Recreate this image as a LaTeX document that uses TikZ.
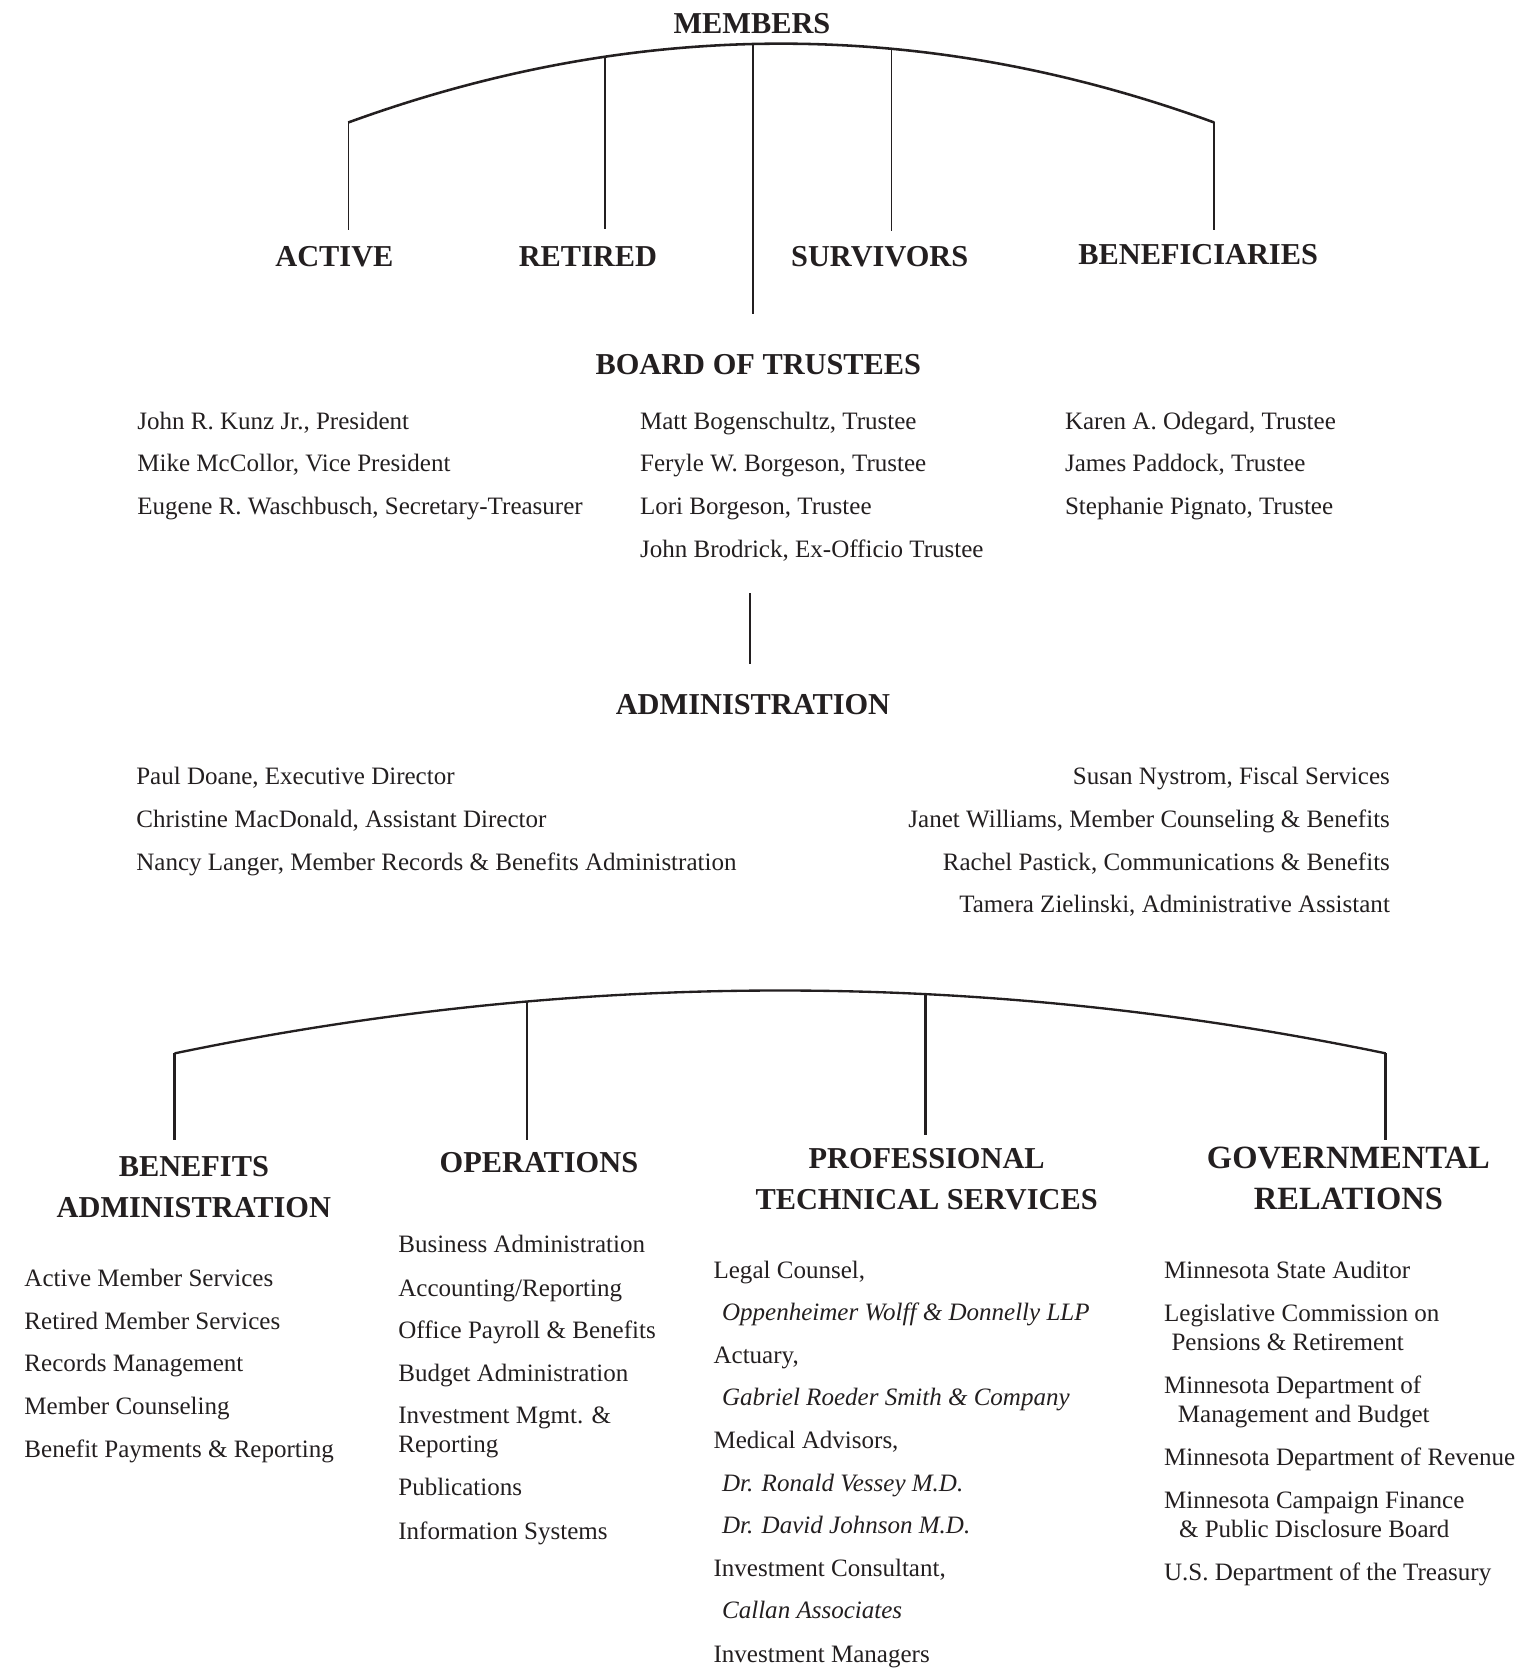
\documentclass[tikz,border=0pt]{standalone}
\usepackage{fontspec}
\setmainfont{Liberation Serif}
\definecolor{ink}{RGB}{35,31,32}
\begin{document}
\begin{tikzpicture}[x=1pt,y=-1pt,
  every node/.style={inner sep=0pt,outer sep=0pt,text=ink},
  head/.style={font=\fontsize{28.5}{34}\selectfont\bfseries,anchor=base},
  bighead/.style={font=\fontsize{30.5}{36}\selectfont\bfseries,anchor=base},
  item/.style={font=\fontsize{23.5}{28}\selectfont,anchor=base west},
  itemr/.style={font=\fontsize{23.5}{28}\selectfont,anchor=base east},
  itit/.style={font=\fontsize{23.5}{28}\selectfont\itshape,anchor=base west},
  arcline/.style={draw=ink,line width=2.4pt},
  thinline/.style={draw=ink,line width=1.4pt},
  lowline/.style={draw=ink,line width=2.2pt}]
\useasboundingbox (0,0) rectangle (1445,1568);

% ---------- top: members ----------
\node[head] (members) at (706,31.5) {MEMBERS};
\node[head] (active) at (314,250.5) {ACTIVE};
\node[head] (retired) at (552,250.5) {RETIRED};
\node[head] (survivors) at (826,250.5) {SURVIVORS};
\node[head] (benef) at (1125,248.5) {BENEFICIARIES};
\node[head] (board) at (712,351.5) {BOARD OF TRUSTEES};

\coordinate (tL) at (327,115);
\coordinate (tR) at (1140,115);
\draw[arcline] (tL) .. controls (598,16.33) and (869,16.33) .. (tR);
\coordinate (tRet) at (568,52.5);
\coordinate (tMem) at (707,40.5);
\coordinate (tSur) at (837,45);
\coordinate (eAct) at (327,216);
\coordinate (eRet) at (568,215);
\coordinate (eMem) at (707,295);
\coordinate (eSur) at (837,217);
\coordinate (eBen) at (1140,216);
\draw[thinline] (tL) -- (eAct);
\draw[thinline] (tRet) -- (eRet);
\draw[thinline] (tMem) -- (eMem);
\draw[thinline] (tSur) -- (eSur);
\draw[thinline] (tR) -- (eBen);

% ---------- board of trustees ----------
\node[item] (b1) at (129,403) {John R. Kunz Jr., President};
\node[item] (b2) at (129,443) {Mike McCollor, Vice President};
\node[item] (b3) at (129,483) {Eugene R. Waschbusch, Secretary-Treasurer};
\node[item] (b4) at (601,403) {Matt Bogenschultz, Trustee};
\node[item] (b5) at (601,443) {Feryle W. Borgeson, Trustee};
\node[item] (b6) at (601,483) {Lori Borgeson, Trustee};
\node[item] (b7) at (601,523) {John Brodrick, Ex-Officio Trustee};
\node[item] (b8) at (1000,403) {Karen A. Odegard, Trustee};
\node[item] (b9) at (1000,443) {James Paddock, Trustee};
\node[item] (b10) at (1000,483) {Stephanie Pignato, Trustee};

\coordinate (bdTop) at (704,557);
\coordinate (bdBot) at (704,623);
\draw[thinline] (bdTop) -- (bdBot);

% ---------- administration ----------
\node[head] (admin) at (707,670.5) {ADMINISTRATION};
\node[item] (a1) at (128,737) {Paul Doane, Executive Director};
\node[item] (a2) at (128,777) {Christine MacDonald, Assistant Director};
\node[item] (a3) at (128,817) {Nancy Langer, Member Records \& Benefits Administration};
\node[itemr] (a4) at (1305,737) {Susan Nystrom, Fiscal Services};
\node[itemr] (a5) at (1305,777) {Janet Williams, Member Counseling \& Benefits};
\node[itemr] (a6) at (1305,817) {Rachel Pastick, Communications \& Benefits};
\node[itemr] (a7) at (1305,857) {Tamera Zielinski, Administrative Assistant};

% ---------- lower arc ----------
\coordinate (lL) at (164,989);
\coordinate (lR) at (1301,989);
\draw[lowline] (lL) .. controls (543,910.33) and (922,910.33) .. (lR);
\coordinate (lOp) at (495,939.5);
\coordinate (lPr) at (869,932.5);
\coordinate (eBa) at (164,1070);
\coordinate (eOp) at (495,1070);
\coordinate (ePr) at (869,1066);
\coordinate (eGo) at (1301,1070);
\draw[lowline] (lL) -- (eBa);
\draw[lowline] (lOp) -- (eOp);
\draw[lowline] (lPr) -- (ePr);
\draw[lowline] (lR) -- (eGo);

\node[head] (ba1) at (182,1104.5) {BENEFITS};
\node[head] (ba2) at (182,1143.5) {ADMINISTRATION};
\node[head] (op) at (506,1100.5) {OPERATIONS};
\node[head] (pt1) at (870,1097.5) {PROFESSIONAL};
\node[head] (pt2) at (870,1135.5) {TECHNICAL SERVICES};
\node[bighead] (gr1) at (1266,1097) {GOVERNMENTAL};
\node[bighead] (gr2) at (1266,1136) {RELATIONS};

% benefits administration
\node[item] (ba3) at (23,1208) {Active Member Services};
\node[item] (ba4) at (23,1248) {Retired Member Services};
\node[item] (ba5) at (23,1288) {Records Management};
\node[item] (ba6) at (23,1328) {Member Counseling};
\node[item] (ba7) at (23,1368) {Benefit Payments \& Reporting};

% operations
\node[item] (op1) at (374,1176) {Business Administration};
\node[item] (op2) at (374,1217) {Accounting/Reporting};
\node[item] (op3) at (374,1257) {Office Payroll \& Benefits};
\node[item] (op4) at (374,1297) {Budget Administration};
\node[item] (op5) at (374,1337) {Investment Mgmt. \&};
\node[item] (op6) at (374,1364) {Reporting};
\node[item] (op7) at (374,1404) {Publications};
\node[item] (op8) at (374,1445) {Information Systems};

% professional technical services
\node[item] (pt3) at (670,1200) {Legal Counsel,};
\node[itit] (pt4) at (678,1240) {Oppenheimer Wolff \& Donnelly LLP};
\node[item] (pt5) at (670,1280) {Actuary,};
\node[itit] (pt6) at (678,1320) {Gabriel Roeder Smith \& Company};
\node[item] (pt7) at (670,1360) {Medical Advisors,};
\node[itit] (pt8) at (678,1400) {Dr. Ronald Vessey M.D.};
\node[itit] (pt9) at (678,1440) {Dr. David Johnson M.D.};
\node[item] (pt10) at (670,1480) {Investment Consultant,};
\node[itit] (pt11) at (678,1520) {Callan Associates};
\node[item] (pt12) at (670,1561) {Investment Managers};

% governmental relations
\node[item] (gr3) at (1093,1200) {Minnesota State Auditor};
\node[item] (gr4) at (1093,1241) {Legislative Commission on};
\node[item] (gr5) at (1100,1268) {Pensions \& Retirement};
\node[item] (gr6) at (1093,1308) {Minnesota Department of};
\node[item] (gr7) at (1106,1336) {Management and Budget};
\node[item] (gr8) at (1093,1376) {Minnesota Department of Revenue};
\node[item] (gr9) at (1093,1416) {Minnesota Campaign Finance};
\node[item] (gr10) at (1107,1444) {\& Public Disclosure Board};
\node[item] (gr11) at (1093,1484) {U.S. Department of the Treasury};
\end{tikzpicture}
\end{document}
